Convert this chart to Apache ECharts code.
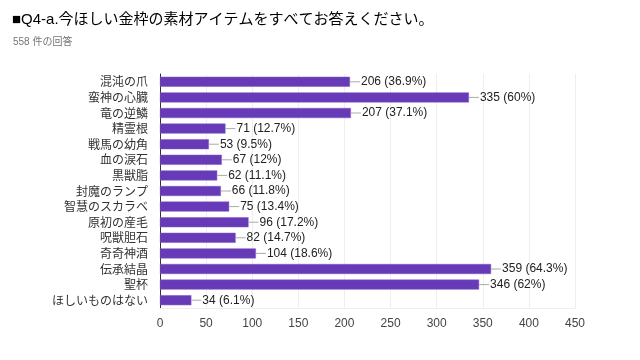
<!DOCTYPE html>
<html><head><meta charset="utf-8">
<script src="https://cdn.jsdelivr.net/npm/echarts@6/dist/echarts.min.js"></script>
<style>html,body{margin:0;padding:0;background:#fff}#c{width:640px;height:360px}</style>
</head><body><div id="c"></div>
<script>
const titleText = '■Q4-a.今ほしい金枠の素材アイテムをすべてお答えください。';
const subtitleText = '558 件の回答';
const totalResponses = 558;
const categories = ['混沌の爪','蛮神の心臓','竜の逆鱗','精霊根','戦馬の幼角','血の涙石','黒獣脂','封魔のランプ','智慧のスカラベ','原初の産毛','呪獣胆石','奇奇神酒','伝承結晶','聖杯','ほしいものはない'];
const counts = [206,335,207,71,53,67,62,66,75,96,82,104,359,346,34];
const xTicks = [0,50,100,150,200,250,300,350,400,450];

const FONT = '"Noto Sans CJK JP", "Noto Sans", sans-serif';
const LFONT = '"Liberation Sans", "Noto Sans CJK JP", sans-serif';
function pct(v){ return (Math.round(v/totalResponses*1000)/10).toString(); }

const chart = echarts.init(document.getElementById('c'), null, {renderer:'canvas'});
chart.setOption({
  animation:false,
  textStyle:{fontFamily:FONT},
  title:[
    {text:titleText, left:7, top:7, textStyle:{fontFamily:LFONT, fontSize:15, fontWeight:'normal', color:'#000'}},
    {text:subtitleText, left:8, top:32, textStyle:{fontFamily:LFONT, fontSize:10, fontWeight:'normal', color:'#757575'}}
  ],
  grid:{left:160, right:65, top:74, bottom:52, containLabel:false},
  xAxis:{type:'value', min:xTicks[0], max:xTicks[xTicks.length-1], interval:50,
    axisLine:{show:true, lineStyle:{color:'#eeeeee'}}, axisTick:{show:false},
    splitLine:{show:true, lineStyle:{color:'#eeeeee'}},
    axisLabel:{color:'#444', fontSize:12, fontFamily:LFONT, margin:10}},
  yAxis:{type:'category', data:categories, inverse:true,
    axisLine:{show:true, lineStyle:{color:'#333', width:1}}, axisTick:{show:false},
    axisLabel:{interval:0, color:'#333', fontSize:12, fontFamily:FONT, margin:12}},
  series:[{type:'bar', data:counts, barWidth:10,
    itemStyle:{color:'#673ab7', borderColor:'#7e57c2', borderWidth:0.5},
    label:{show:true, position:'right', distance:0,
      formatter:p=>'{l|}{t|'+p.value+' ('+pct(p.value)+'%)}',
      rich:{l:{width:10, height:1, backgroundColor:'#aaaaaa', verticalAlign:'middle'},
            t:{color:'#222', fontSize:12, fontFamily:LFONT, padding:[0,0,0,1]}}}
  }]
});
</script></body></html>
